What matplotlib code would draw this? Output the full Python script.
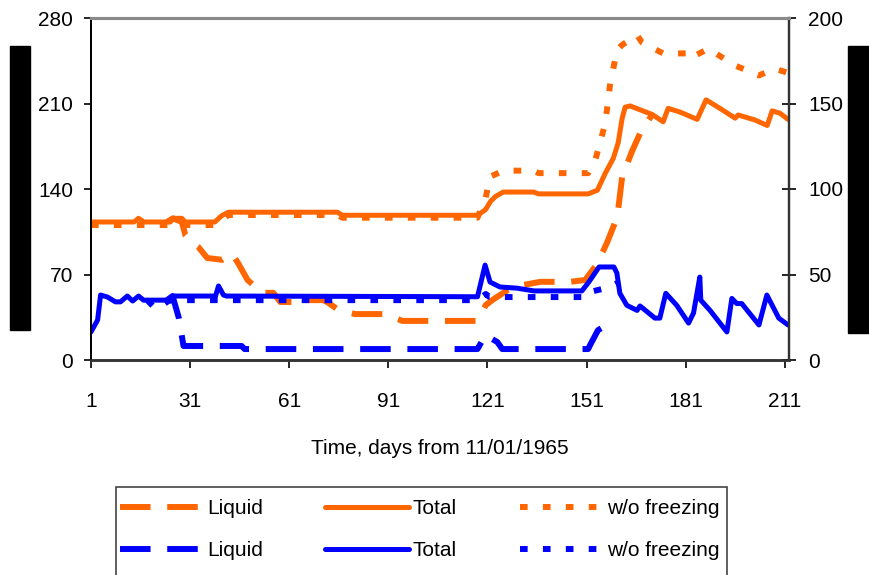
import matplotlib
matplotlib.use("Agg")
import matplotlib.pyplot as plt
from matplotlib.patches import Rectangle

plt.rcParams['font.family'] = ['Liberation Sans', 'DejaVu Sans']
plt.rcParams['lines.scale_dashes'] = False

# ---------------- data ----------------
# Orange series (left axis)
or_total_days = [1, 14, 15.4, 17, 25, 25.8, 28.5, 29.5, 38.5, 40.5, 42.6, 75.6, 77.1, 118, 120.4, 122,
                 123.5, 125.8, 135, 136.5, 151.5, 154.3, 156.7, 159.1, 160.6, 161.8, 162.7, 164.2, 170.9,
                 174.2, 175.7, 179.3, 184.5, 187.2, 191.4, 196, 196.9, 202, 205.7, 207.2, 209.6, 212]
or_total_vals = [113, 113, 116, 113, 113, 116, 116, 113, 113, 118, 121, 121, 118.5, 118.5, 123, 130,
                 134, 137.5, 137.5, 136, 136, 139, 153, 165, 178, 198, 207, 208, 201,
                 195, 206, 203, 197, 213, 206, 198, 200.6, 196.5, 192, 204, 202, 197]

or_liquid_days = [24, 25.8, 28.5, 29.6, 31.7, 33.5, 36.2, 40.8, 43.8, 45.6, 48.4, 52.9, 56.2, 58.3, 61.9,
                  66.8, 71.3, 72.5, 75.9, 81, 89.8, 95.3, 118, 120.5, 123, 127, 131, 137, 146, 150.6,
                  154.3, 157.3, 160.3, 161.8, 164.8, 167.3, 170.9]
or_liquid_vals = [113, 116, 113, 102, 96, 92.5, 83.5, 82, 86.8, 79, 65.5, 55, 55, 47.5, 47.5,
                  49, 49, 47.5, 41, 37.6, 37.6, 32, 32, 45, 50, 57, 61, 64, 64, 65.5,
                  79, 96.6, 117, 150, 171, 186, 201]

or_wofrz_days = [1, 38.5, 42.6, 75.6, 77.1, 118, 120.5, 121.8, 125.8, 135, 136.5, 151.5, 153.7, 156.7,
                 158.2, 160.3, 161.8, 166.3, 167.8, 174.2, 181.4, 182.3, 188, 189.6, 195.6, 203.2,
                 208, 211.5]
or_wofrz_vals = [110.5, 110.5, 118.7, 118.7, 116.5, 116.5, 133, 150, 155, 155, 153, 153, 164, 194,
                 227, 254, 258, 266, 260, 251, 251, 247, 255, 252, 241.5, 233,
                 238.5, 235.5]

# Blue series (right axis)
bl_total_days = [1, 3, 3.9, 6, 8.4, 9.9, 12, 13.6, 15.4, 16.9, 25, 25.7, 38.7, 39.6, 41.1, 42, 118,
                 120.3, 121.8, 124.8, 130, 135.1, 149.6, 151.7, 154.8, 159.3, 160.2, 161.1, 163.2,
                 166.3, 167.2, 171.7, 173.2, 175, 178.3, 181.9, 183.4, 185.3, 185.6, 188.4, 193.5,
                 195, 196.5, 198, 203.2, 205.6, 209.2, 212]
bl_total_vals = [16.4, 23.4, 38, 36.8, 34, 34, 37.4, 34.5, 37.4, 35, 35, 37.4, 37.4, 43.3, 38, 37.4, 37,
                 55.5, 45.6, 42.7, 42, 40.4, 40.4, 45.6, 54.4, 54.4, 50.8, 39, 32,
                 29, 31.6, 24.5, 24.5, 39, 32, 21.6, 27.5, 48.5, 35, 29, 16.4,
                 36, 33, 33, 20.5, 38, 24.5, 20.5]

bl_liquid_days = [24, 25.7, 27.6, 29, 46.6, 47.5, 118, 120.4, 124, 125.5, 151.5, 152.1, 154.5, 157.2, 159]
bl_liquid_vals = [35, 37.4, 24.5, 8.2, 8.2, 6.4, 6.4, 14.6, 10.5, 6.4, 6.4, 8.8, 17.5, 20.5, 22.8]

bl_wofrz_days = [18, 20.5, 22.6, 24.4, 26, 118, 120.5, 121.5, 127, 151, 152.1, 158.2, 160.3]
bl_wofrz_vals = [35, 30, 32, 34.5, 35, 35, 38.6, 37, 36.8, 36.8, 39.8, 42.7, 45]

x_ticks = [1, 31, 61, 91, 121, 151, 181, 211]
left_ticks = [0, 70, 140, 210, 280]
right_ticks = [0, 50, 100, 150, 200]
legend_labels = ["Liquid", "Liquid", "Total", "Total", "w/o freezing", "w/o freezing"]
x_label = "Time, days from 11/01/1965"

ORANGE = "#FF6600"
BLUE = "#0000FF"

# ---------------- figure ----------------
fig = plt.figure(figsize=(8.69, 5.75), dpi=100)
ax = fig.add_axes([91 / 869, 1 - 360 / 575, (789 - 91) / 869, (360 - 18) / 575])
ax2 = ax.twinx()

dash_style = (0, (22, 12))
dot_style = (0, (5.5, 11))
lw_tot = 3.6
lw_pat = 4.3

l_ol, = ax.plot(or_liquid_days, or_liquid_vals, color=ORANGE, lw=lw_pat, linestyle=dash_style,
                dash_capstyle='butt')
l_ot, = ax.plot(or_total_days, or_total_vals, color=ORANGE, lw=lw_tot, solid_capstyle='round',
                solid_joinstyle='round')
l_ow, = ax.plot(or_wofrz_days, or_wofrz_vals, color=ORANGE, lw=lw_pat, linestyle=dot_style,
                dash_capstyle='butt')

l_bl, = ax2.plot(bl_liquid_days, bl_liquid_vals, color=BLUE, lw=lw_pat, linestyle=dash_style,
                 dash_capstyle='butt')
l_bt, = ax2.plot(bl_total_days, bl_total_vals, color=BLUE, lw=lw_tot, solid_capstyle='round',
                 solid_joinstyle='round')
l_bw, = ax2.plot(bl_wofrz_days, bl_wofrz_vals, color=BLUE, lw=lw_pat, linestyle=dot_style,
                 dash_capstyle='butt')

ax.set_xlim(1, 212.3)
ax.set_ylim(0, 280)
ax2.set_ylim(0, 200)
ax.set_xticks(x_ticks)
ax.set_yticks(left_ticks)
ax2.set_yticks(right_ticks)

fs = 15
ax.tick_params(axis='x', direction='out', length=6, width=1.2, pad=17, labelsize=fs, colors='black')
ax.tick_params(axis='y', direction='out', length=5, width=1.2, pad=8, labelsize=fs)
ax2.tick_params(axis='y', direction='inout', length=10, width=1.2, pad=9, labelsize=fs)

for a in (ax, ax2):
    a.spines['top'].set_color('#8a8a8a')
    a.spines['top'].set_linewidth(2.2)
    a.spines['left'].set_color('black')
    a.spines['left'].set_linewidth(1.3)
    a.spines['right'].set_color('#333333')
    a.spines['right'].set_linewidth(1.6)
    a.spines['bottom'].set_color('#333333')
    a.spines['bottom'].set_linewidth(1.8)

ax.set_xlabel(x_label, fontsize=fs, labelpad=20)

# legend
handles = [l_ol, l_bl, l_ot, l_bt, l_ow, l_bw]
leg = fig.legend(handles, legend_labels, ncol=3, loc='upper left',
                 bbox_to_anchor=(107 / 869, 1 - 487 / 575), frameon=False, fontsize=fs,
                 handlelength=4.0, handletextpad=0.2, columnspacing=3.0, labelspacing=1.1,
                 borderpad=0.6, borderaxespad=0)
fig.patches.append(Rectangle((116 / 869, -0.05), (727 - 116) / 869, (1 - 487 / 575) + 0.05,
                             transform=fig.transFigure, fill=False, edgecolor='#444444', lw=1.2))

# redaction bars (as in the reference)
fig.patches.append(Rectangle((10 / 869, 1 - 330 / 575), 20 / 869, 284 / 575,
                             transform=fig.transFigure, color='black'))
fig.patches.append(Rectangle((848 / 869, 1 - 333 / 575), 21 / 869, 287 / 575,
                             transform=fig.transFigure, color='black'))

fig.savefig("out.png", dpi=100)
